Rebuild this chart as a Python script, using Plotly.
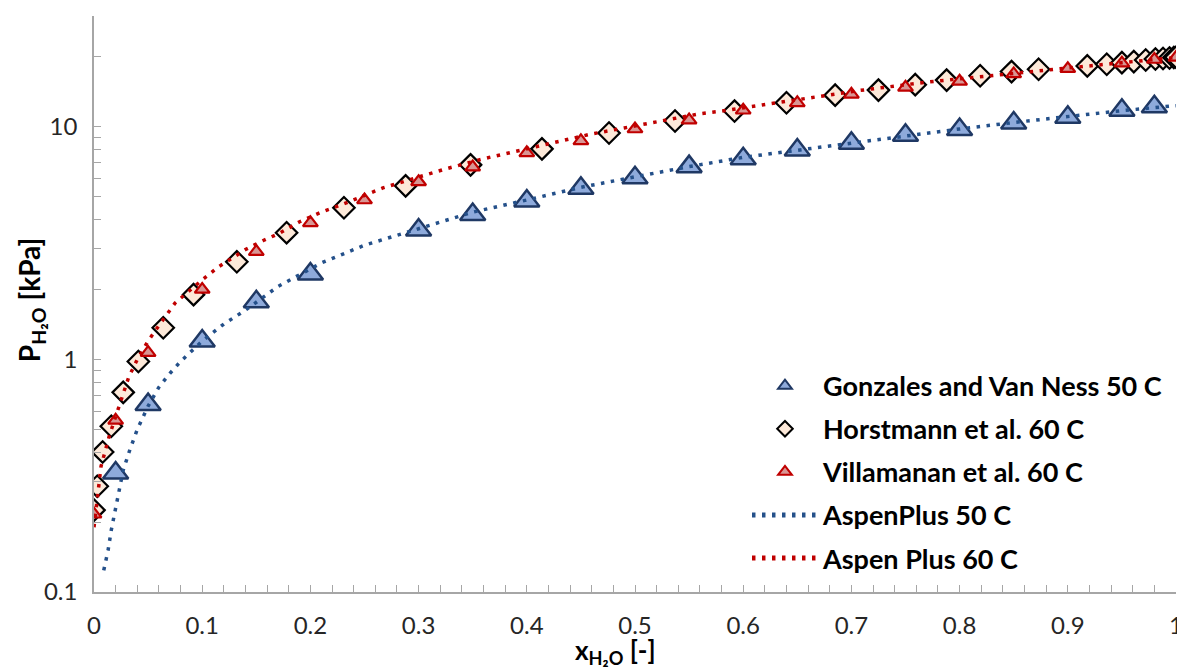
import plotly.graph_objects as go

# ---- data ----
gvn_x = [0.02, 0.05, 0.1, 0.15, 0.2, 0.3, 0.35, 0.4, 0.45, 0.5, 0.55, 0.6, 0.65, 0.7, 0.75, 0.8, 0.85, 0.9, 0.95, 0.98]
gvn_p = [0.325, 0.64, 1.2, 1.77, 2.33, 3.6, 4.2, 4.8, 5.45, 6.05, 6.75, 7.3, 7.95, 8.5, 9.2, 9.75, 10.4, 11.0, 11.8, 12.2]

hor_x = [0.0, 0.003, 0.008, 0.016, 0.027, 0.041, 0.064, 0.092, 0.132, 0.178, 0.231, 0.288, 0.348, 0.414,
         0.476, 0.537, 0.592, 0.640, 0.685, 0.725, 0.759, 0.788, 0.819, 0.848, 0.873, 0.918, 0.936,
         0.950, 0.961, 0.972, 0.981, 0.988, 0.994, 0.998, 1.0]
hor_p = [0.225, 0.285, 0.40, 0.516, 0.722, 0.98, 1.37, 1.90, 2.63, 3.51, 4.49, 5.58, 6.87, 8.05,
         9.42, 10.6, 11.7, 12.7, 13.7, 14.4, 15.2, 15.9, 16.6, 17.3, 17.7, 18.3, 18.6,
         18.9, 19.1, 19.4, 19.6, 19.7, 19.8, 19.9, 19.95]

vil_x = [0.0, 0.02, 0.05, 0.1, 0.15, 0.2, 0.25, 0.3, 0.35, 0.4, 0.45, 0.5, 0.55, 0.6, 0.65, 0.7, 0.75,
         0.8, 0.85, 0.9, 0.95, 0.98, 1.0]
vil_p = [0.216, 0.547, 1.07, 2.0, 2.91, 3.87, 4.85, 5.81, 6.72, 7.74, 8.71, 9.80, 10.7, 11.8, 12.7, 13.8, 14.8,
         15.7, 16.9, 17.8, 18.8, 19.5, 19.9]

asp50_x = [0.009, 0.013, 0.016, 0.02, 0.023, 0.027, 0.033, 0.04, 0.05, 0.06, 0.07, 0.08, 0.1, 0.12, 0.14,
           0.17, 0.21, 0.25, 0.3, 0.35, 0.4, 0.45, 0.5, 0.55, 0.6, 0.65, 0.7, 0.75, 0.8, 0.85, 0.9, 0.95, 1.0]
asp50_p = [0.124, 0.151, 0.185, 0.23, 0.274, 0.334, 0.407, 0.5, 0.63, 0.76, 0.87, 0.98, 1.2, 1.42, 1.63,
           2.06, 2.6, 3.1, 3.65, 4.3, 4.85, 5.5, 6.1, 6.75, 7.4, 7.95, 8.55, 9.2, 9.8, 10.45, 11.1, 11.75, 12.35]

asp60_x = [0.0, 0.0065, 0.014, 0.023, 0.032, 0.04, 0.05, 0.06, 0.075, 0.1, 0.115, 0.14, 0.156, 0.172, 0.19,
           0.21, 0.23, 0.267, 0.3, 0.325, 0.36, 0.38, 0.41, 0.435, 0.46, 0.49, 0.515, 0.56, 0.58, 0.63,
           0.66, 0.705, 0.77, 0.81, 0.835, 0.865, 0.9, 0.95, 1.0]
asp60_p = [0.19, 0.347, 0.467, 0.628, 0.837, 1.0, 1.2, 1.40, 1.75, 2.2, 2.5, 2.97, 3.24, 3.5, 3.91,
           4.3, 4.65, 5.47, 6.1, 6.6, 7.3, 7.66, 8.29, 8.79, 9.33, 9.9, 10.4, 11.4, 11.7, 12.7,
           13.3, 14.3, 15.6, 16.3, 16.7, 17.2, 17.9, 18.9, 19.9]

y_tickvals = [0.1, 0.2, 0.3, 0.4, 0.5, 0.6, 0.7, 0.8, 0.9, 1, 2, 3, 4, 5, 6, 7, 8, 9, 10, 20, 30]
y_ticktext = ["0.1", " ", " ", " ", " ", " ", " ", " ", " ", "1", " ", " ", " ", " ", " ", " ", " ", " ", "10", " ", " "]

x_title = "<b>x<sub>H₂O</sub> [-]</b>"
y_title = "<b>P<sub>H₂O</sub> [kPa]</b>"

FONT = "Lato"

fig = go.Figure()
fig.add_trace(go.Scatter(
    x=gvn_x, y=gvn_p, mode="markers", name="<b>Gonzales and Van Ness 50 C</b>", legendgroup="a",
    marker=dict(symbol="triangle-up", size=22, color="#8eaadb", line=dict(color="#1f3864", width=2.5))))
fig.add_trace(go.Scatter(
    x=hor_x, y=hor_p, mode="markers", name="<b>Horstmann et al. 60 C</b>", legendgroup="b",
    marker=dict(symbol="diamond", size=16.5, color="#fde9d9", line=dict(color="#000000", width=2.2))))
fig.add_trace(go.Scatter(
    x=vil_x, y=vil_p, mode="markers", name="<b>Villamanan et al. 60 C</b>", legendgroup="c",
    marker=dict(symbol="triangle-up", size=13, color="#d99694", line=dict(color="#c00000", width=2.2))))
fig.add_trace(go.Scatter(
    x=asp50_x, y=asp50_p, mode="lines", name="<b>AspenPlus 50 C</b>", legendgroup="d",
    line=dict(color="#24508a", width=3.5, dash="3.5px,6.5px")))
fig.add_trace(go.Scatter(
    x=asp60_x, y=asp60_p, mode="lines", name="<b>Aspen Plus 60 C</b>", legendgroup="e",
    line=dict(color="#c00000", width=3.5, dash="3.5px,6.5px")))

# page body has a default 8px margin, so the figure is drawn 8px smaller with 8px less margin left/top
fig.update_layout(
    width=1177, height=659,
    margin=dict(l=86, r=9, t=8, b=75),
    paper_bgcolor="white", plot_bgcolor="white",
    font=dict(family=FONT, size=24, color="#262626"),
    showlegend=True,
    legend=dict(x=0.6035, y=0.40, xanchor="left", yanchor="top",
                bgcolor="rgba(0,0,0,0)", font=dict(family=FONT, size=27, color="#000000"),
                tracegroupgap=5, itemsizing="constant", traceorder="grouped", itemwidth=66),
    xaxis=dict(range=[0, 1], dtick=0.1, tick0=0, showgrid=False, zeroline=False, automargin=False,
               showline=True, linecolor="#a6a6a6", linewidth=1.5,
               ticks="inside", ticklen=7, tickcolor="#a6a6a6", tickwidth=1.2,
               minor=dict(dtick=0.02, ticks="inside", ticklen=7, tickcolor="#a6a6a6", tickwidth=1.2, showgrid=False),
               ticklabelstandoff=11),
    yaxis=dict(type="log", range=[-1, 1.4771], showgrid=False, zeroline=False, automargin=False,
               showline=True, linecolor="#a6a6a6", linewidth=1.5,
               tickvals=y_tickvals, ticktext=y_ticktext,
               ticks="inside", ticklen=7, tickcolor="#a6a6a6", tickwidth=1.2,
               ticklabelstandoff=10),
    annotations=[
        dict(text=x_title, xref="paper", yref="paper", x=0.4824, y=-0.1035, xanchor="center", yanchor="middle",
             showarrow=False, font=dict(family=FONT, size=26, color="#000000")),
        dict(text=y_title, xref="paper", yref="paper", x=-0.058, y=0.507, xanchor="center", yanchor="middle",
             textangle=-90, showarrow=False, font=dict(family=FONT, size=28, color="#000000")),
    ],
)

fig.write_html("out.html")
